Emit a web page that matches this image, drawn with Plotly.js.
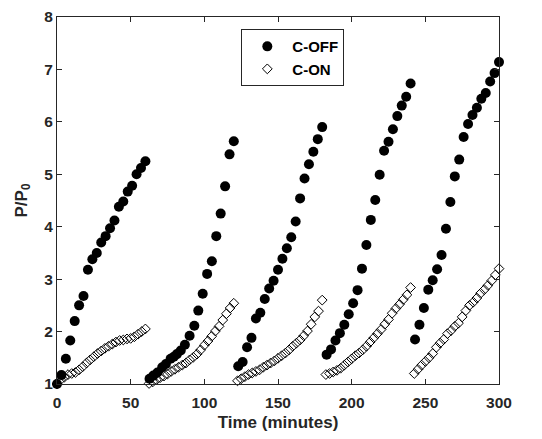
<!DOCTYPE html>
<html>
<head>
<meta charset="utf-8">
<script src="https://cdn.plot.ly/plotly-3.0.1.min.js"></script>
<style>html,body{margin:0;padding:0;background:#fff;}#chart{width:542px;height:439px;}</style>
</head>
<body>
<div id="chart"></div>
<script>
// C-OFF (filled circles): time in minutes and P/P0
const offTime = [
  0, 3, 6, 9, 12, 15, 18, 21, 24, 27, 30, 33, 36, 39, 42, 45, 48, 51, 54, 57, 60,
  62.8, 65.4, 68.2, 71.4, 73.9, 77.1, 79.3, 81.4, 84, 86.8, 90, 93.2, 95.9, 98.9, 101.9, 105.1, 108.1, 111.1, 114.1, 117.1, 120,
  123, 126, 129, 132, 135, 138, 141, 144, 147, 150, 153, 156, 159, 162, 165, 168, 171, 174, 177, 180,
  183, 186, 189, 192, 195, 198, 201, 204, 207, 210, 213, 216, 219, 222, 225, 228, 231, 234, 237, 240,
  243, 246, 249, 252, 255, 258, 261, 264, 267, 270, 273, 276, 279, 282, 285, 288, 291, 294, 297, 300
];
const offValue = [
  1.0, 1.17, 1.48, 1.83, 2.2, 2.5, 2.68, 3.18, 3.38, 3.5, 3.7, 3.82, 3.97, 4.12, 4.38, 4.48, 4.67, 4.78, 5.0, 5.12, 5.25,
  1.1, 1.16, 1.22, 1.32, 1.38, 1.48, 1.52, 1.57, 1.64, 1.75, 1.92, 2.11, 2.4, 2.72, 3.1, 3.34, 3.82, 4.25, 4.77, 5.38, 5.63,
  1.34, 1.42, 1.7, 1.88, 2.25, 2.36, 2.62, 2.82, 2.97, 3.18, 3.39, 3.59, 3.8, 4.1, 4.54, 4.92, 5.19, 5.43, 5.67, 5.9,
  1.56, 1.66, 1.83, 1.97, 2.13, 2.33, 2.54, 2.79, 3.2, 3.65, 4.13, 4.51, 4.99, 5.45, 5.62, 5.86, 6.11, 6.31, 6.48, 6.73,
  1.85, 2.13, 2.45, 2.8, 2.98, 3.19, 3.46, 3.96, 4.47, 4.96, 5.28, 5.71, 5.96, 6.13, 6.27, 6.44, 6.55, 6.77, 6.93, 7.14
];
// C-ON (open diamonds)
const onTime = [
  0, 2.5, 5, 7.5, 10, 12.5, 15, 17.5, 20, 22.5, 25, 27.5, 30, 32.5, 35, 37.5, 40, 42.5, 45, 47.5, 50, 52.5, 55, 57.5, 60,
  62.5, 65, 67.5, 70, 72.5, 75, 77.5, 80, 82.5, 85, 87.5, 90, 92.5, 95, 97.5, 100, 102.5, 105, 107.5, 110, 112.5, 115, 117.5, 120,
  122.5, 125, 127.5, 130, 132.5, 135, 137.5, 140, 142.5, 145, 147.5, 150, 152.5, 155, 157.5, 160, 162.5, 165, 167.5, 170, 172.5, 175, 177.5, 180,
  182.5, 185, 187.5, 190, 192.5, 195, 197.5, 200, 202.5, 205, 207.5, 210, 212.5, 215, 217.5, 220, 222.5, 225, 227.5, 230, 232.5, 235, 237.5, 240,
  242.5, 245, 247.5, 250, 252.5, 255, 257.5, 260, 262.5, 265, 267.5, 270, 272.5, 275, 277.5, 280, 282.5, 285, 287.5, 290, 292.5, 295, 297.5, 300
];
const onValue = [
  1.0, 1.08, 1.13, 1.18, 1.2, 1.22, 1.27, 1.33, 1.4, 1.46, 1.52, 1.58, 1.63, 1.68, 1.72, 1.76, 1.8, 1.83, 1.84, 1.86, 1.87, 1.9, 1.95, 2.0, 2.05,
  1.01, 1.04, 1.08, 1.12, 1.15, 1.19, 1.24, 1.28, 1.32, 1.36, 1.4, 1.46, 1.51, 1.57, 1.65, 1.74, 1.82, 1.91, 2.01, 2.1, 2.22, 2.34, 2.45, 2.54,
  1.06, 1.1, 1.14, 1.18, 1.21, 1.24, 1.27, 1.32, 1.36, 1.4, 1.44, 1.49, 1.54, 1.59, 1.65, 1.72, 1.78, 1.84, 1.92, 2.01, 2.14, 2.28, 2.39, 2.6,
  1.18, 1.2, 1.23, 1.26, 1.3, 1.36, 1.42, 1.48, 1.54, 1.59, 1.65, 1.72, 1.8, 1.88, 1.96, 2.04, 2.14, 2.23, 2.35, 2.44, 2.52, 2.61, 2.7, 2.84,
  1.2, 1.28, 1.36, 1.43, 1.5, 1.58, 1.7, 1.78, 1.85, 1.96, 2.02, 2.1, 2.16, 2.28, 2.4, 2.5, 2.56, 2.64, 2.73, 2.8, 2.88, 2.97, 3.08, 3.2
];
const xTicks = [0, 50, 100, 150, 200, 250, 300];
const yTicks = [1, 2, 3, 4, 5, 6, 7, 8];

const ink = '#262626';
const fam = 'Liberation Sans, Arial, sans-serif';
const font = {family: fam, size: 15.5, color: ink, weight: 'bold'};

const traces = [
  {x: offTime, y: offValue, name: 'C-OFF', type: 'scatter', mode: 'markers', cliponaxis: false,
   marker: {symbol: 'circle', size: 10, color: '#000'}},
  {x: onTime, y: onValue, name: 'C-ON', type: 'scatter', mode: 'markers', cliponaxis: false,
   marker: {symbol: 'diamond-open', size: 7.5, color: '#000', line: {width: 1, color: '#111'}}}
];
const axisCommon = {
  showline: true, linecolor: ink, linewidth: 1, mirror: 'ticks',
  ticks: 'inside', ticklen: 5, tickwidth: 1, tickcolor: ink,
  showgrid: false, zeroline: false, tickfont: font
};
const layout = {
  width: 542, height: 439,
  margin: {l: 57, r: 43, t: 17, b: 55},
  paper_bgcolor: '#fff', plot_bgcolor: '#fff',
  showlegend: true,
  legend: {x: 0.417, y: 0.967, xanchor: 'left', yanchor: 'top',
    bgcolor: '#fff', bordercolor: ink, borderwidth: 1, itemwidth: 40,
    tracegroupgap: 0,
    font: {family: fam, size: 15, color: '#000', weight: 'bold'}},
  xaxis: Object.assign({}, axisCommon, {range: [0, 300], tickvals: xTicks, ticklabelstandoff: 4,
    title: {text: 'Time (minutes)', font: {family: fam, size: 17, color: ink, weight: 'bold'}, standoff: 6}}),
  yaxis: Object.assign({}, axisCommon, {range: [1, 8], tickvals: yTicks,
    title: {text: 'P/P<sub>0</sub>', font: {family: fam, size: 17, color: ink, weight: 'bold'}, standoff: 12}})
};
Plotly.newPlot('chart', traces, layout, {displayModeBar: false, staticPlot: true});
</script>
</body>
</html>
